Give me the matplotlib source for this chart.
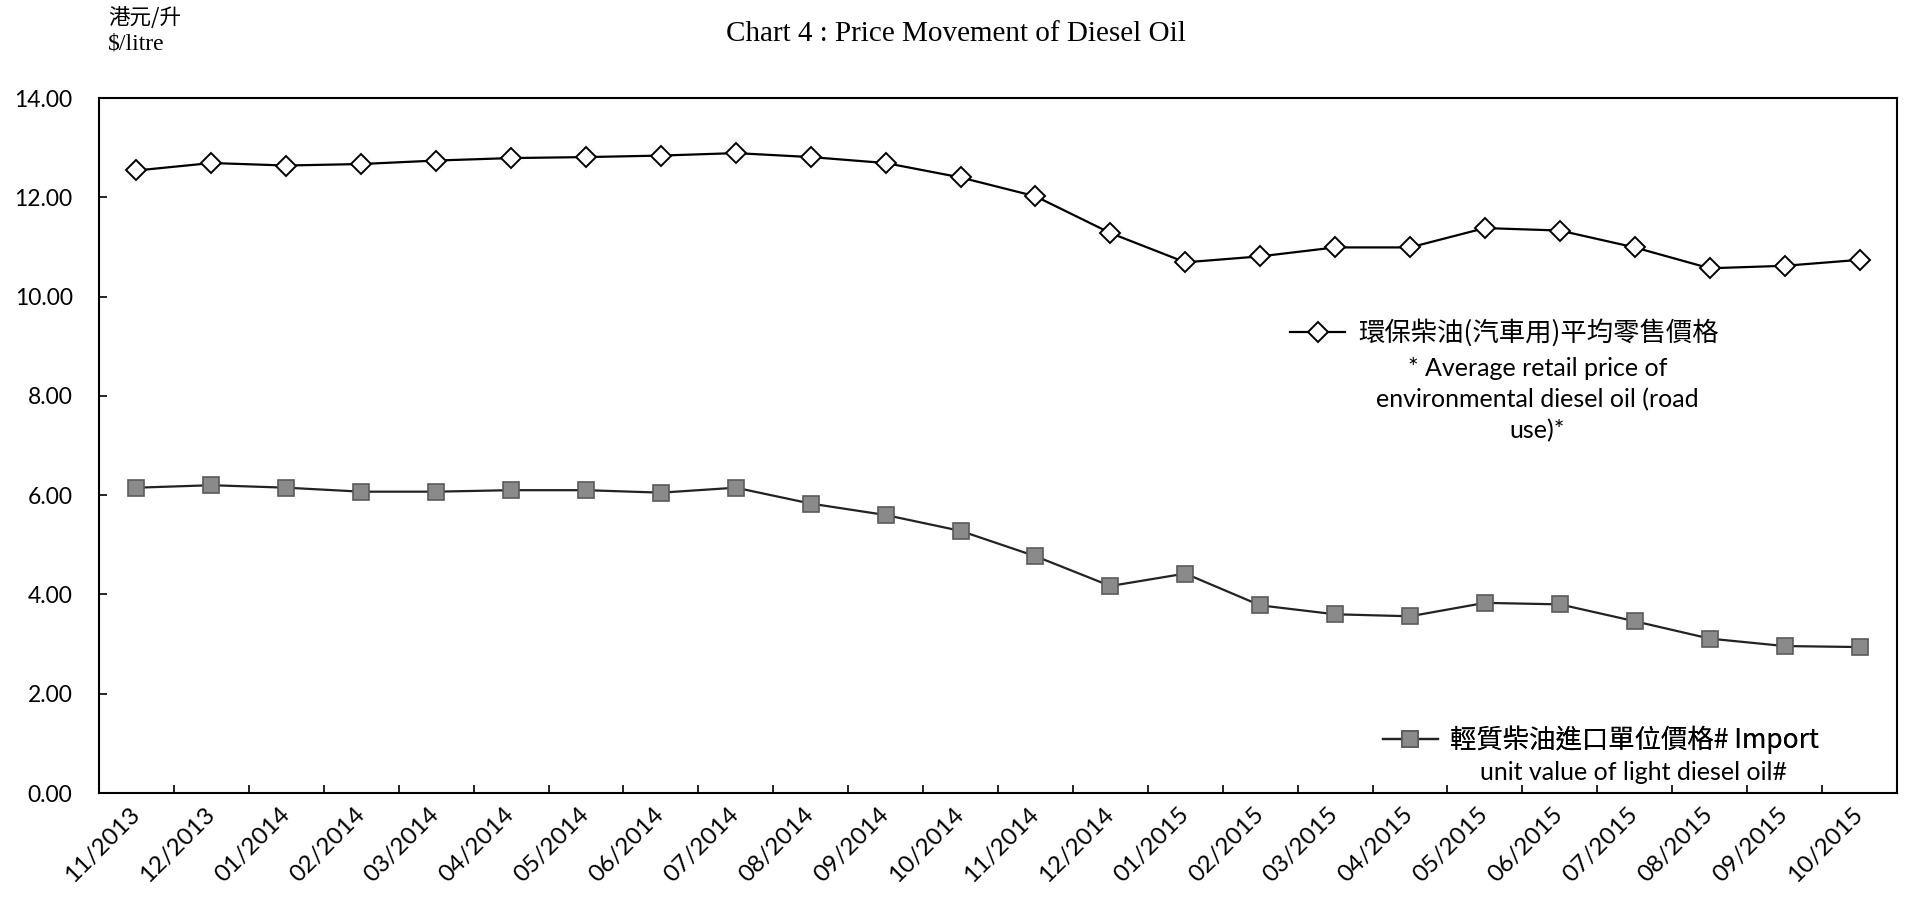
import numpy as np
import matplotlib.pyplot as plt
from matplotlib.ticker import FixedLocator, FormatStrFormatter

# Datos
months = ["11/2013", "12/2013", "01/2014", "02/2014", "03/2014", "04/2014",
          "05/2014", "06/2014", "07/2014", "08/2014", "09/2014", "10/2014",
          "11/2014", "12/2014", "01/2015", "02/2015", "03/2015", "04/2015",
          "05/2015", "06/2015", "07/2015", "08/2015", "09/2015", "10/2015"]

retail = [12.54, 12.69, 12.64, 12.67, 12.74, 12.79, 12.81, 12.84, 12.89, 12.81,
          12.69, 12.40, 12.02, 11.28, 10.69, 10.81, 10.99, 10.99, 11.38, 11.33,
          10.99, 10.57, 10.62, 10.74]

imports = [6.15, 6.20, 6.15, 6.07, 6.07, 6.10, 6.10, 6.05, 6.15, 5.83,
           5.60, 5.28, 4.77, 4.17, 4.42, 3.78, 3.60, 3.56, 3.83, 3.80,
           3.46, 3.11, 2.96, 2.94]

retail_label = "環保柴油(汽車用)平均零售價格"
retail_extra = ["* Average retail price of", "environmental diesel oil (road", "use)*"]
import_label = "輕質柴油進口單位價格# Import"
import_extra = "unit value of light diesel oil#"

# Fuentes
sans = ["Lato", "Noto Sans CJK TC", "DejaVu Sans"]
cjk = ["Noto Sans CJK TC", "Lato", "DejaVu Sans"]
serif = ["Liberation Serif", "DejaVu Serif"]
plt.rcParams['font.family'] = sans

fig = plt.figure(figsize=(19.21, 8.97), dpi=100)
ax = fig.add_axes([99 / 1921, 104 / 897, 1798 / 1921, 695 / 897])

x = np.arange(len(months))

l1, = ax.plot(x, retail, color='black', linewidth=1.6, marker='D', markersize=10,
              markerfacecolor='white', markeredgecolor='black', markeredgewidth=1.4)
l2, = ax.plot(x, imports, color='#222222', linewidth=1.6, marker='s', markersize=11,
              markerfacecolor='#8a8a8a', markeredgecolor='#5a5a5a', markeredgewidth=1.2)

ax.set_xlim(-0.5, len(months) - 0.5)
ax.set_ylim(0, 14)

# eixo y
ax.set_yticks(np.arange(0, 14.01, 2))
ax.yaxis.set_major_formatter(FormatStrFormatter('%.2f'))
ax.tick_params(axis='y', direction='in', length=6, width=1.2, pad=19,
               labelsize=16.5, right=False)

# eixo x: rótulos no centro, marcas nas divisas
ax.set_xticks(x)
ax.set_xticklabels(months, rotation=45, ha='right', va='center',
                   rotation_mode='anchor', fontsize=17.5)
ax.tick_params(axis='x', which='major', length=0, pad=13)
ax.xaxis.set_minor_locator(FixedLocator(np.arange(0.5, len(months) - 1, 1)))
ax.tick_params(axis='x', which='minor', direction='in', length=6, width=1.2, top=False)

for s in ax.spines.values():
    s.set_linewidth(1.5)
    s.set_color('black')

# legendas
leg1 = ax.legend([l1], [retail_label], loc='center left', bbox_to_anchor=(0.6624, 0.662),
                 frameon=False, borderpad=0, borderaxespad=0, handlelength=2.1,
                 handletextpad=0.5, prop={'family': cjk, 'size': 19})
ax.add_artist(leg1)
for i, line in enumerate(retail_extra):
    ax.text(0.800, 0.6115 - i * 0.045, line, transform=ax.transAxes, ha='center',
            va='center', fontsize=18, family=sans)

leg2 = ax.legend([l2], [import_label], loc='center left', bbox_to_anchor=(0.714, 0.0763),
                 frameon=False, borderpad=0, borderaxespad=0, handlelength=2.1,
                 handletextpad=0.45, prop={'family': cjk, 'size': 19})
ax.add_artist(leg2)
ax.text(0.8537, 0.0288, import_extra, transform=ax.transAxes, ha='center', va='center',
        fontsize=18, family=sans)

# título e unidades
fig.text(0.4977, 0.962, "Chart 4 : Price Movement of Diesel Oil", ha='center', va='center',
         fontsize=21, family=serif)
fig.text(108 / 1921, 1 - 18 / 897, "港元/升", ha='left', va='center', fontsize=15.5,
         family=cjk)
fig.text(108 / 1921, 1 - 44 / 897, "$/litre", ha='left', va='center', fontsize=17,
         family=serif)

fig.savefig("out.png", dpi=100)
